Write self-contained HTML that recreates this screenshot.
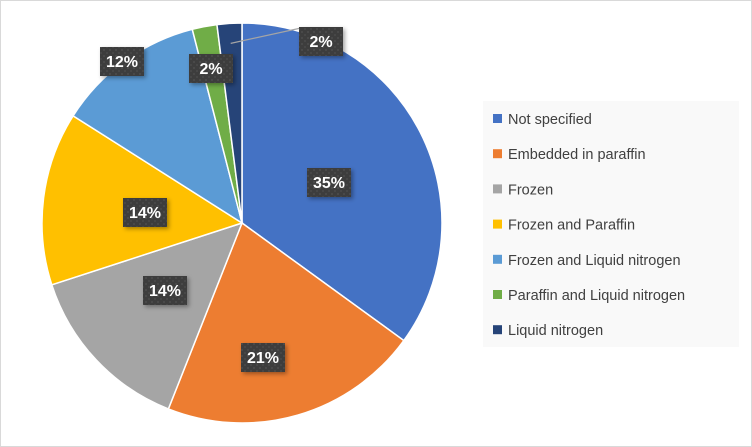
<!DOCTYPE html>
<html><head><meta charset="utf-8"><style>
body{margin:0;background:#fff;}
#wrap{position:relative;width:752px;height:447px;border:1px solid #d9d9d9;box-sizing:border-box;overflow:hidden;font-family:"Liberation Sans",sans-serif;}
</style></head><body>
<div id="wrap">
<svg id="chart" width="752" height="447">
<defs>
<pattern id="dots" width="6" height="6" patternUnits="userSpaceOnUse"><rect width="6" height="6" fill="#3d3d3d"/><rect x="0" y="0" width="2" height="2" fill="#4a4a4a"/><rect x="3" y="3" width="2" height="2" fill="#474747"/></pattern>
<filter id="sh" x="-20%" y="-20%" width="150%" height="150%"><feDropShadow dx="2" dy="2" stdDeviation="2" flood-color="#000" flood-opacity="0.35"/></filter>
</defs>
<g id="slices"></g>
<rect x="482" y="100" width="256" height="246" fill="#f9f9f9"/>
<g id="legend"></g>
<g id="labels"></g>
</svg>
</div>
<script>
const categories=["Not specified","Embedded in paraffin","Frozen","Frozen and Paraffin","Frozen and Liquid nitrogen","Paraffin and Liquid nitrogen","Liquid nitrogen"];
const values=[35,21,14,14,12,2,2];
const colors=["#4472c4","#ed7d31","#a5a5a5","#ffc000","#5b9bd5","#70ad47","#264478"];
const labelPos=[[328,181],[262,356],[164,289],[144,211],[121,60],[210,67],[320,40]];
const NS="http://www.w3.org/2000/svg";
const cx=241,cy=222,r=200;
const total=values.reduce((a,b)=>a+b,0);
const sl=document.getElementById('slices'),lb=document.getElementById('labels'),lg=document.getElementById('legend');
function pt(a,rr){return [cx+rr*Math.sin(a),cy-rr*Math.cos(a)];}
let acc=0;
values.forEach((v,i)=>{
  const a0=acc/total*2*Math.PI; acc+=v; const a1=acc/total*2*Math.PI;
  const p0=pt(a0,r),p1=pt(a1,r);
  const p=document.createElementNS(NS,'path');
  p.setAttribute('d',`M${cx},${cy}L${p0[0]},${p0[1]}A${r},${r} 0 ${a1-a0>Math.PI?1:0} 1 ${p1[0]},${p1[1]}Z`);
  p.setAttribute('fill',colors[i]);p.setAttribute('stroke','#fff');p.setAttribute('stroke-width','1.5');
  
  
  sl.appendChild(p);
  const [lx,ly]=labelPos[i];
  if(i===6){
    const am=(a0+a1)/2, e=pt(am,r*0.9);
    const ln=document.createElementNS(NS,'polyline');
    ln.setAttribute('points',`${e[0]},${e[1]} ${lx-20},${ly-13} ${lx-10},${ly-13}`);
    ln.setAttribute('fill','none');ln.setAttribute('stroke','#a5a5a5');ln.setAttribute('stroke-width','1.2');
    
    
    lb.appendChild(ln);
  }
  const g=document.createElementNS(NS,'g');
  
  
  const bx=document.createElementNS(NS,'rect');
  bx.setAttribute('x',lx-22);bx.setAttribute('y',ly-14);bx.setAttribute('width',44);bx.setAttribute('height',29);
  bx.setAttribute('fill','url(#dots)');bx.setAttribute('filter','url(#sh)');
  g.appendChild(bx);
  const t=document.createElementNS(NS,'text');
  t.setAttribute('x',lx);t.setAttribute('y',ly+6);t.setAttribute('text-anchor','middle');
  t.setAttribute('fill','#fff');t.setAttribute('font-size','16');t.setAttribute('font-weight','bold');
  t.setAttribute('font-family','Liberation Sans, sans-serif');
  t.textContent=Math.round(v/total*100)+'%';
  g.appendChild(t);lb.appendChild(g);
  const lgI=document.createElementNS(NS,'g');
  
  
  const y=118+i*35.2;
  const sq=document.createElementNS(NS,'rect');
  sq.setAttribute('x',492);sq.setAttribute('y',y-5);sq.setAttribute('width',9);sq.setAttribute('height',9);sq.setAttribute('fill',colors[i]);
  lgI.appendChild(sq);
  const tt=document.createElementNS(NS,'text');
  tt.setAttribute('x',507);tt.setAttribute('y',y+5);tt.setAttribute('font-size','14.5');tt.setAttribute('fill','#404040');
  tt.setAttribute('font-family','Liberation Sans, sans-serif');
  tt.textContent=categories[i];
  lgI.appendChild(tt);lg.appendChild(lgI);
});
</script>
</body></html>
